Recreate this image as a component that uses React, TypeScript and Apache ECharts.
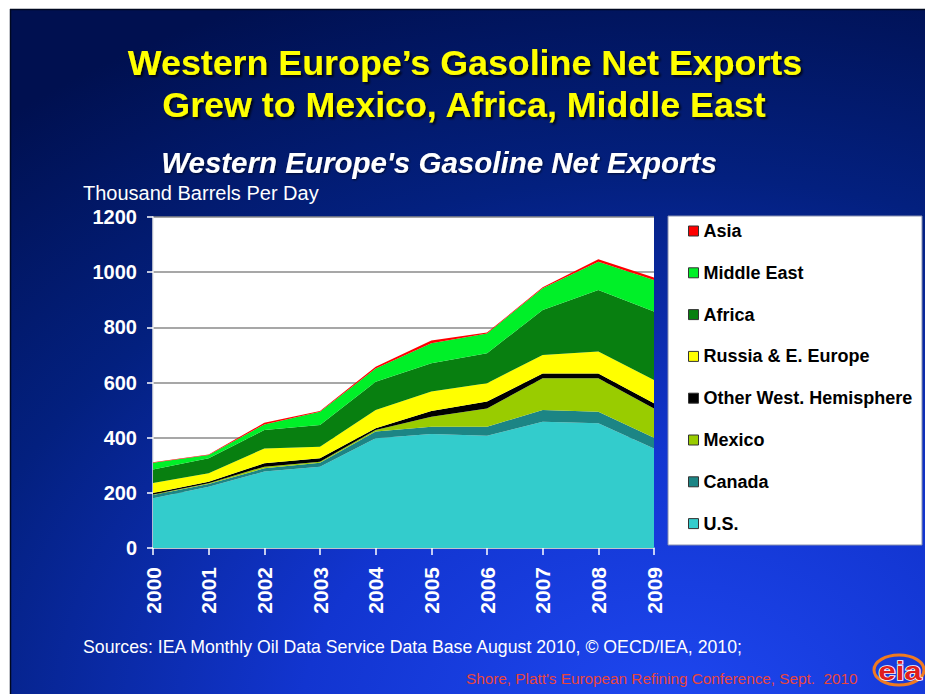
import React, { useEffect, useRef } from "react";
import * as echarts from "echarts";

const years = ["2000", "2001", "2002", "2003", "2004", "2005", "2006", "2007", "2008", "2009"];
const us = [180, 222, 277, 295, 398, 413, 407, 458, 452, 361];
const canada = [12, 10, 12, 14, 24, 27, 33, 42, 42, 39];
const mexico = [2, 3, 6, 4, 6, 36, 66, 115, 121, 106];
const otherWestHem = [5, 5, 12, 12, 6, 21, 25, 18, 18, 19];
const russia = [37, 31, 54, 42, 66, 70, 66, 67, 79, 84];
const africa = [49, 54, 67, 79, 103, 103, 109, 163, 223, 248];
const middleEast = [24, 12, 20, 48, 48, 72, 72, 79, 103, 115];
const asia = [2, 2, 6, 3, 6, 10, 3, 3, 9, 9];

const seriesNames = ["U.S.", "Canada", "Mexico", "Other West. Hemisphere", "Russia & E. Europe", "Africa", "Middle East", "Asia"];
const seriesValues = [us, canada, mexico, otherWestHem, russia, africa, middleEast, asia];
const seriesColors = ["#33cccc", "#1c8585", "#99cc00", "#000000", "#ffff00", "#087f10", "#00f028", "#ff0000"];

const yTicks = { min: 0, max: 1200, interval: 200 };

const FONT = "'Liberation Sans', Arial, sans-serif";

export default function App() {
  const ref = useRef<HTMLDivElement>(null);
  useEffect(() => {
    if (!ref.current) return;
    const chart = echarts.init(ref.current, undefined, { renderer: "svg" });
    const option: any = {
      animation: false,
      backgroundColor: "#ffffff",
      graphic: [
        {
          type: "rect",
          z: -10,
          shape: { x: 10, y: 9, width: 915, height: 685 },
          style: {
            fill: new echarts.graphic.RadialGradient(0.72, 1.05, 1.15, [
              { offset: 0, color: "#1f48f2" },
              { offset: 0.35, color: "#1235d0" },
              { offset: 0.7, color: "#03207f" },
              { offset: 1, color: "#001050" },
            ]),
          },
        },
        { type: "line", z: -9, shape: { x1: 10, y1: 9.5, x2: 925, y2: 9.5 }, style: { stroke: "#000820", lineWidth: 1.5 } },
        { type: "line", z: -9, shape: { x1: 10.5, y1: 9, x2: 10.5, y2: 694 }, style: { stroke: "#000820", lineWidth: 1.5 } },
        {
          type: "text",
          x: 465,
          y: 63,
          style: {
            text: "Western Europe\u2019s Gasoline Net Exports",
            fontFamily: FONT,
            fontSize: 35.8,
            fontWeight: "bold",
            fill: "#ffff00",
            align: "center",
            verticalAlign: "middle",
            textShadowColor: "rgba(0,0,0,0.8)",
            textShadowOffsetX: 2,
            textShadowOffsetY: 2,
            textShadowBlur: 2,
          },
        },
        {
          type: "text",
          x: 464,
          y: 105,
          style: {
            text: "Grew to Mexico, Africa, Middle East",
            fontFamily: FONT,
            fontSize: 35.8,
            fontWeight: "bold",
            fill: "#ffff00",
            align: "center",
            verticalAlign: "middle",
            textShadowColor: "rgba(0,0,0,0.8)",
            textShadowOffsetX: 2,
            textShadowOffsetY: 2,
            textShadowBlur: 2,
          },
        },
        {
          type: "text",
          x: 439,
          y: 162,
          style: {
            text: "Western Europe's Gasoline Net Exports",
            fontFamily: FONT,
            fontSize: 29.5,
            fontWeight: "bold",
            fontStyle: "italic",
            fill: "#ffffff",
            align: "center",
            verticalAlign: "middle",
            textShadowColor: "rgba(0,0,0,0.6)",
            textShadowOffsetX: 1,
            textShadowOffsetY: 1,
            textShadowBlur: 2,
          },
        },
        {
          type: "text",
          x: 83,
          y: 193,
          style: {
            text: "Thousand Barrels Per Day",
            fontFamily: FONT,
            fontSize: 20,
            fill: "#ffffff",
            align: "left",
            verticalAlign: "middle",
          },
        },
        {
          type: "rect",
          z: -5,
          shape: { x: 668, y: 216, width: 254, height: 329 },
          style: { fill: "#ffffff", stroke: "#8890b0", lineWidth: 1 },
        },
        {
          type: "text",
          x: 83,
          y: 647,
          style: {
            text: "Sources: IEA Monthly Oil Data Service Data Base August 2010, \u00a9 OECD/IEA, 2010;",
            fontFamily: FONT,
            fontSize: 17.7,
            fill: "#ffffff",
            align: "left",
            verticalAlign: "middle",
          },
        },
        {
          type: "text",
          x: 466,
          y: 678,
          style: {
            text: "Shore, Platt's European Refining Conference, Sept.  2010",
            fontFamily: FONT,
            fontSize: 15.3,
            fill: "#e8453c",
            align: "left",
            verticalAlign: "middle",
          },
        },
        {
          type: "ellipse",
          shape: { cx: 899, cy: 670, rx: 25, ry: 15 },
          style: { fill: "none", stroke: "#f07a20", lineWidth: 3 },
        },
        {
          type: "text",
          x: 900,
          y: 671,
          scaleX: 1.25,
          style: {
            text: "eia",
            fontFamily: FONT,
            fontSize: 25,
            fontWeight: "bold",
            fill: "#e01e1e",
            stroke: "#ffffff",
            lineWidth: 1.5,
            align: "center",
            verticalAlign: "middle",
          },
        },
      ],
      legend: {
        orient: "vertical",
        left: 683,
        top: 217,
        icon: "rect",
        itemWidth: 10,
        itemHeight: 10,
        itemGap: 23.8,
        itemStyle: { borderColor: "#333333", borderWidth: 1 },
        textStyle: { fontFamily: FONT, fontSize: 18, fontWeight: "bold", color: "#000000", lineHeight: 18 },
        data: seriesNames.slice().reverse(),
      },
      grid: {
        left: 153,
        top: 217,
        width: 501,
        height: 331,
        show: true,
        backgroundColor: "#ffffff",
        borderWidth: 0,
      },
      xAxis: {
        type: "category",
        data: years,
        boundaryGap: false,
        axisLine: { show: true, lineStyle: { color: "#dddddd", width: 1.5 } },
        axisTick: { show: true, length: 7, lineStyle: { color: "#ffffff", width: 1.5 } },
        axisLabel: {
          rotate: 90,
          margin: 19,
          color: "#ffffff",
          fontFamily: FONT,
          fontSize: 21,
          fontWeight: "bold",
        },
      },
      yAxis: {
        type: "value",
        min: yTicks.min,
        max: yTicks.max,
        interval: yTicks.interval,
        axisLine: { show: true, lineStyle: { color: "#e8e8e8", width: 1.5 } },
        axisTick: { show: true, length: 6, lineStyle: { color: "#ffffff", width: 1.5 } },
        axisLabel: {
          margin: 16,
          color: "#ffffff",
          fontFamily: FONT,
          fontSize: 20,
          fontWeight: "bold",
          formatter: (v: number) => String(v),
        },
        splitLine: { show: true, lineStyle: { color: "#8a8a8a", width: 1.5 } },
      },
      series: seriesNames.map((name, i) => ({
        name,
        type: "line",
        stack: "total",
        data: seriesValues[i],
        symbol: "none",
        lineStyle: { width: 0 },
        itemStyle: { color: seriesColors[i] },
        areaStyle: { color: seriesColors[i], opacity: 1 },
        z: 2,
      })),
    };
    chart.setOption(option);
    return () => chart.dispose();
  }, []);
  return (
    <div
      ref={ref}
      style={{ position: "absolute", left: 0, top: 0, width: 925, height: 694 }}
    />
  );
}
